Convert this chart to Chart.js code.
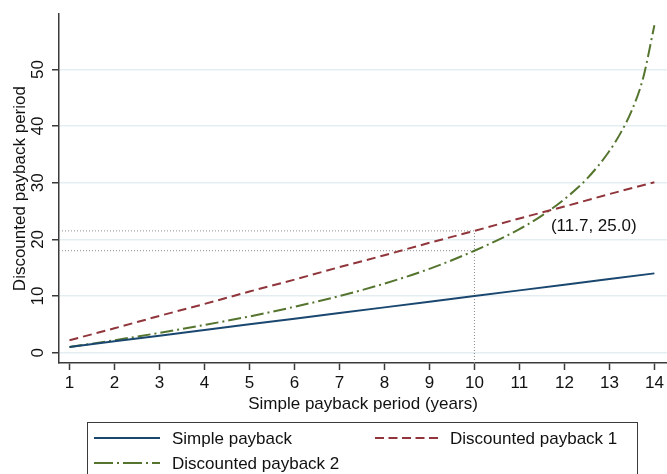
<!DOCTYPE html>
<html>
<head>
<meta charset="utf-8">
<script src="https://cdn.jsdelivr.net/npm/chart.js@4/dist/chart.umd.min.js"></script>
<style>
  html, body { margin: 0; padding: 0; background: #fff; }
  #chart { display: block; }
</style>
</head>
<body>
<canvas id="chart" width="667" height="474"></canvas>
<script>
// data
const years = [1, 2, 3, 4, 5, 6, 7, 8, 9, 10, 11, 12, 13, 14];
const simplePayback = [1, 2, 3, 4, 5, 6, 7, 8, 9, 10, 11, 12, 13, 14];
const discounted1 = [2.2, 4.3, 6.5, 8.6, 10.8, 12.9, 15.1, 17.2, 19.4, 21.5, 23.7, 25.8, 28.0, 30.1];
const discounted2Years = [1, 2, 3, 4, 5, 6, 7, 8, 9, 10, 11, 11.5, 12, 12.5, 13, 13.25, 13.5, 13.75, 14];
const discounted2 = [1.0, 2.2, 3.5, 4.9, 6.4, 8.1, 10.0, 12.2, 14.8, 18.0, 21.8, 24.2, 27.1, 30.7, 35.6, 38.8, 42.8, 48.5, 57.8];
const xTicks = [1, 2, 3, 4, 5, 6, 7, 8, 9, 10, 11, 12, 13, 14];
const yTicks = [0, 10, 20, 30, 40, 50];

// reference guides and the crossing label
const refYear = 10;
const refLevels = [21.5, 18.0];
const crossing = { x: 11.7, y: 25.0, label: "(11.7, 25.0)" };

const X_MIN = 0.767, X_MAX = 14.28;
const Y_MIN = -1.82, Y_MAX = 59.75;

const FONT = "'Liberation Sans', Arial, Helvetica, sans-serif";
const NAVY = "#1a476f";
const MAROON = "#90353b";
const GREEN = "#55752f";
const AXIS = "#3a3a3a";
const GRID = "#e4edf1";
const GUIDE = "#8a8a8a";
const TEXT = "#111";

const toPoints = (xs, ys) => xs.map((x, i) => ({ x: x, y: ys[i] }));

const guideSets = refLevels.map((lvl) => ({
  label: "",
  data: [{ x: X_MIN, y: lvl }, { x: refYear, y: lvl }],
  borderColor: GUIDE,
  borderWidth: 1,
  borderDash: [1, 2],
  pointRadius: 0,
  order: 5,
}));
guideSets.push({
  label: "",
  data: [{ x: refYear, y: Y_MIN }, { x: refYear, y: Math.max(...refLevels) }],
  borderColor: GUIDE,
  borderWidth: 1,
  borderDash: [1, 2],
  pointRadius: 0,
  order: 5,
});

const legendPlugin = {
  id: "boxLegend",
  afterDraw(chart) {
    const ctx = chart.ctx;
    const ds = chart.data.datasets;
    ctx.save();
    ctx.strokeStyle = AXIS;
    ctx.lineWidth = 1;
    ctx.strokeRect(87.5, 422.5, 550, 70);
    const items = [
      { d: ds[0], x: 94, y: 438, len: 66, dash: [] },
      { d: ds[1], x: 375, y: 438, len: 63, dash: [9, 4.5] },
      { d: ds[2], x: 94, y: 463, len: 66, dash: [19, 4, 2, 4] },
    ];
    items.forEach((it) => {
      ctx.beginPath();
      ctx.setLineDash(it.dash);
      ctx.strokeStyle = it.d.borderColor;
      ctx.lineWidth = 2;
      ctx.moveTo(it.x, it.y);
      ctx.lineTo(it.x + it.len, it.y);
      ctx.stroke();
      ctx.setLineDash([]);
      ctx.fillStyle = TEXT;
      ctx.font = "17px " + FONT;
      ctx.textAlign = "left";
      ctx.textBaseline = "middle";
      ctx.fillText(it.d.label, it.x + it.len + 12, it.y + 1);
    });
    ctx.restore();
  },
};

const notePlugin = {
  id: "crossNote",
  afterDatasetsDraw(chart) {
    const ctx = chart.ctx;
    const xs = chart.scales.x, ys = chart.scales.y;
    ctx.save();
    ctx.fillStyle = TEXT;
    ctx.font = "17px " + FONT;
    ctx.textAlign = "left";
    ctx.textBaseline = "middle";
    ctx.fillText(crossing.label, xs.getPixelForValue(crossing.x), ys.getPixelForValue(crossing.y) + 15);
    ctx.restore();
  },
};

new Chart(document.getElementById("chart"), {
  type: "line",
  data: {
    datasets: [
      {
        label: "Simple payback",
        data: toPoints(years, simplePayback),
        borderColor: NAVY,
        borderWidth: 2,
        pointRadius: 0,
        order: 1,
      },
      {
        label: "Discounted payback 1",
        data: toPoints(years, discounted1),
        borderColor: MAROON,
        borderWidth: 2,
        borderDash: [9, 5],
        pointRadius: 0,
        order: 2,
      },
      {
        label: "Discounted payback 2",
        data: toPoints(discounted2Years, discounted2),
        borderColor: GREEN,
        borderWidth: 2,
        borderDash: [13, 4, 2, 4],
        cubicInterpolationMode: "monotone",
        pointRadius: 0,
        order: 3,
      },
      ...guideSets,
    ],
  },
  options: {
    responsive: false,
    animation: false,
    devicePixelRatio: 1,
    layout: { padding: { top: 14, right: 0, left: 0, bottom: 59 } },
    plugins: {
      legend: { display: false },
      tooltip: { enabled: false },
    },
    scales: {
      x: {
        type: "linear",
        min: X_MIN,
        max: X_MAX,
        afterBuildTicks: (scale) => { scale.ticks = xTicks.map((v) => ({ value: v })); },
        afterFit: (scale) => { scale.height = 52; },
        grid: { drawOnChartArea: false, drawTicks: true, tickLength: 7, tickColor: AXIS, tickWidth: 1.5 },
        border: { color: AXIS, width: 1.5 },
        ticks: { color: TEXT, font: { family: FONT, size: 17 }, padding: 3, maxRotation: 0, autoSkip: false },
        title: {
          display: true,
          text: "Simple payback period (years)",
          color: TEXT,
          font: { family: FONT, size: 17 },
          padding: { top: 0, bottom: 0 },
        },
      },
      y: {
        type: "linear",
        min: Y_MIN,
        max: Y_MAX,
        afterBuildTicks: (scale) => { scale.ticks = yTicks.map((v) => ({ value: v })); },
        afterFit: (scale) => { scale.width = 59; },
        grid: { color: GRID, lineWidth: 1.5, drawTicks: true, tickLength: 7, tickColor: AXIS, tickWidth: 1.5 },
        border: { color: AXIS, width: 1.5 },
        ticks: {
          color: TEXT,
          font: { family: FONT, size: 17 },
          minRotation: 90,
          maxRotation: 90,
          crossAlign: "center",
          padding: 4,
          autoSkip: false,
        },
        title: {
          display: true,
          text: "Discounted payback period",
          color: TEXT,
          font: { family: FONT, size: 17 },
          padding: { top: 10, bottom: 0 },
        },
      },
    },
  },
  plugins: [notePlugin, legendPlugin],
});
</script>
</body>
</html>
